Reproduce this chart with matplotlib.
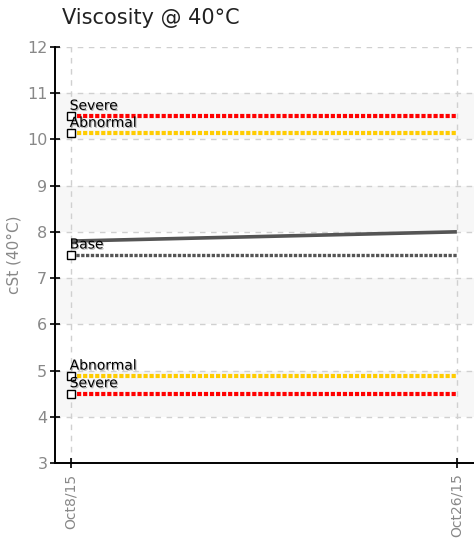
import matplotlib
matplotlib.use("Agg")
import matplotlib.pyplot as plt
import matplotlib.dates as mdates
import matplotlib.patheffects as pe
import datetime as dt

# ---- data ----
dates = [dt.datetime(2015, 10, 8), dt.datetime(2015, 10, 26)]
tick_labels = ["Oct8/15", "Oct26/15"]
values = [7.8, 8.0]
limit_names = ["Severe", "Abnormal", "Base", "Abnormal", "Severe"]
limit_values = [10.5, 10.13, 7.5, 4.88, 4.5]
limit_colors = ["#ff0000", "#ffcc00", "#555555", "#ffcc00", "#ff0000"]
limit_widths = [3.0, 3.0, 2.4, 3.0, 3.0]
y_min, y_max = 3, 12

narrow = ["Liberation Sans Narrow", "DejaVu Sans"]

fig = plt.figure(figsize=(4.74, 5.39), dpi=100)
ax = fig.add_axes([0.116, 0.141, 0.884, 0.772])

xl = mdates.date2num(dates[0]) - 0.75
xr = mdates.date2num(dates[1]) + 0.8
ax.set_xlim(xl, xr)
ax.set_ylim(y_min, y_max)

# alternating bands
for b in range(4, 12, 2):
    ax.axhspan(b, b + 1, color="#f7f7f7", zorder=0, lw=0)

# grid
ax.set_yticks(range(y_min, y_max + 1))
ax.set_xticks([mdates.date2num(d) for d in dates])
ax.set_xticklabels(tick_labels)
ax.grid(True, color="#d0d0d0", linestyle=(0, (4, 4)), linewidth=1.0, zorder=1)

# limit lines
for name, v, c, w in zip(limit_names, limit_values, limit_colors, limit_widths):
    ax.plot(dates, [v, v], color=c, linewidth=w, linestyle=(0, (1, 0.45)),
            dash_capstyle="butt", zorder=3)
    ax.plot([dates[0]], [v], marker="s", markersize=5.5, markerfacecolor="white",
            markeredgecolor="black", markeredgewidth=1.0, linestyle="none",
            zorder=5)
    ax.annotate(name, (mdates.date2num(dates[0]), v), xytext=(-1, 2.5),
                textcoords="offset points", ha="left", va="bottom",
                fontsize=10, color="black", zorder=6,
                path_effects=[pe.withSimplePatchShadow(offset=(0.8, -0.8),
                                                       shadow_rgbFace="#888888",
                                                       alpha=0.6)])

# data line
ax.plot(dates, values, color="#555555", linewidth=2.6, zorder=4,
        solid_capstyle="butt")

# spines and ticks
for s in ["top", "right"]:
    ax.spines[s].set_visible(False)
ax.spines["left"].set_linewidth(1.4)
ax.spines["bottom"].set_linewidth(1.4)
ax.tick_params(axis="both", direction="inout", length=7, width=1.2,
               color="black", labelcolor="#888888")
ax.tick_params(axis="y", labelsize=11.5, pad=2)
ax.tick_params(axis="x", labelsize=10, pad=4)
for lbl in ax.get_xticklabels():
    lbl.set_rotation(90)
    lbl.set_family(narrow)
for lbl in ax.get_yticklabels():
    lbl.set_family(narrow)

ax.set_ylabel("cSt (40°C)", color="#888888", fontsize=11, labelpad=4,
              family=narrow)

fig.text(0.131, 0.966, "Viscosity @ 40°C", fontsize=15, color="#222222",
         ha="left", va="center")

fig.savefig("out.png", dpi=100)
